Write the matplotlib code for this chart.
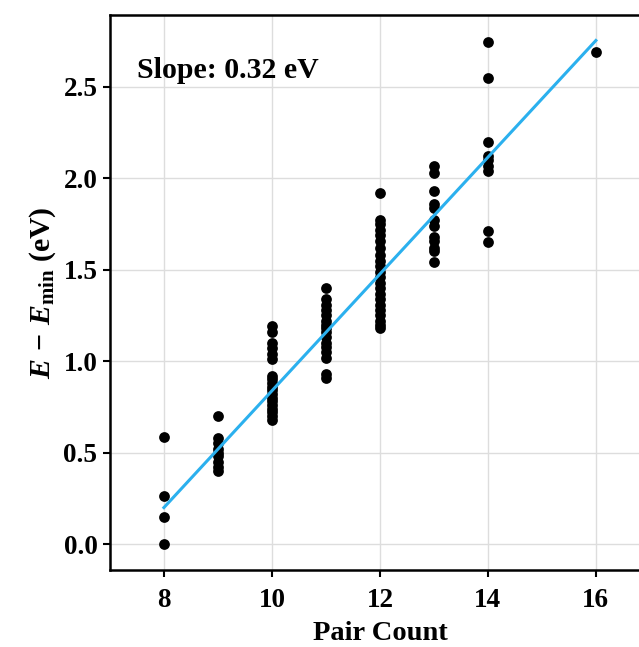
import numpy as np
import matplotlib
matplotlib.use("Agg")
import matplotlib.pyplot as plt

plt.rcParams['font.family'] = ['Liberation Serif', 'DejaVu Serif']
plt.rcParams['font.weight'] = 'bold'
plt.rcParams['mathtext.fontset'] = 'custom'
plt.rcParams['mathtext.rm'] = 'Liberation Serif:bold'
plt.rcParams['mathtext.it'] = 'Liberation Serif:bold:italic'
plt.rcParams['mathtext.bf'] = 'Liberation Serif:bold'

# Data: energy above minimum (eV) per pair count
y8 = [0.585, 0.265, 0.148, 0.0]
y9 = [0.70, 0.58, 0.55, 0.52, 0.50, 0.48, 0.45, 0.42, 0.40]
y10 = [1.19, 1.16, 1.10, 1.07, 1.04, 1.01, 0.92, 0.90, 0.88, 0.86, 0.84,
       0.82, 0.80, 0.78, 0.76, 0.74, 0.72, 0.70, 0.68]
y11 = [1.40, 1.34, 1.31, 1.28, 1.25, 1.22, 1.20, 1.18, 1.16, 1.13, 1.10,
       1.08, 1.05, 1.02, 0.93, 0.91]
y12 = [1.92, 1.77, 1.75, 1.72, 1.69, 1.66, 1.62, 1.58, 1.55, 1.52, 1.49,
       1.46, 1.43, 1.40, 1.37, 1.34, 1.31, 1.28, 1.25, 1.22, 1.20, 1.18]
y13 = [2.07, 2.03, 1.93, 1.86, 1.84, 1.77, 1.74, 1.68, 1.66, 1.62, 1.60, 1.54]
y14 = [2.745, 2.55, 2.20, 2.12, 2.10, 2.07, 2.04, 1.71, 1.65]
y16 = [2.69]

groups = {8: y8, 9: y9, 10: y10, 11: y11, 12: y12, 13: y13, 14: y14, 16: y16}

fit_slope = 0.3193
fit_intercept = -2.355
fit_x = [8, 16]

xticks = [8, 10, 12, 14, 16]
yticks = [0.0, 0.5, 1.0, 1.5, 2.0, 2.5]

fig = plt.figure(figsize=(6.39, 6.47), dpi=100)
ax = fig.add_axes([0.172, 0.119, 0.845, 0.858])

xs = np.concatenate([[k] * len(v) for k, v in groups.items()])
ys = np.concatenate([v for v in groups.values()])
ax.scatter(xs, ys, s=60, color='black', zorder=3, linewidths=0)

fx = np.array(fit_x, dtype=float)
ax.plot(fx, fit_slope * fx + fit_intercept, color='#2BB0EE', lw=2.2, zorder=4)

ax.set_xlim(7.0, 17.0)
ax.set_ylim(-0.142, 2.894)
ax.set_xticks(xticks)
ax.set_yticks(yticks)
ax.set_yticklabels([f"{v:.1f}" for v in yticks])
ax.grid(True, color='#dddddd', lw=1.0, zorder=0)
ax.set_axisbelow(True)
for sp in ax.spines.values():
    sp.set_linewidth(1.8)
ax.tick_params(axis='both', direction='out', length=5, width=1.5,
               labelsize=19.5, pad=4)
ax.tick_params(axis='x', pad=8)
for lab in ax.get_xticklabels() + ax.get_yticklabels():
    lab.set_fontweight('bold')

ax.set_xlabel('Pair Count', fontsize=20.5, fontweight='bold', labelpad=6)
ax.set_ylabel(r'$E\,-\,E_{\mathrm{min}}$ (eV)', fontsize=21.5, fontweight='bold', labelpad=4)

ax.text(0.05, 0.925, 'Slope: 0.32 eV', transform=ax.transAxes, fontsize=21.5,
        fontweight='bold', va='top', ha='left')

fig.savefig('out.png', dpi=100)
